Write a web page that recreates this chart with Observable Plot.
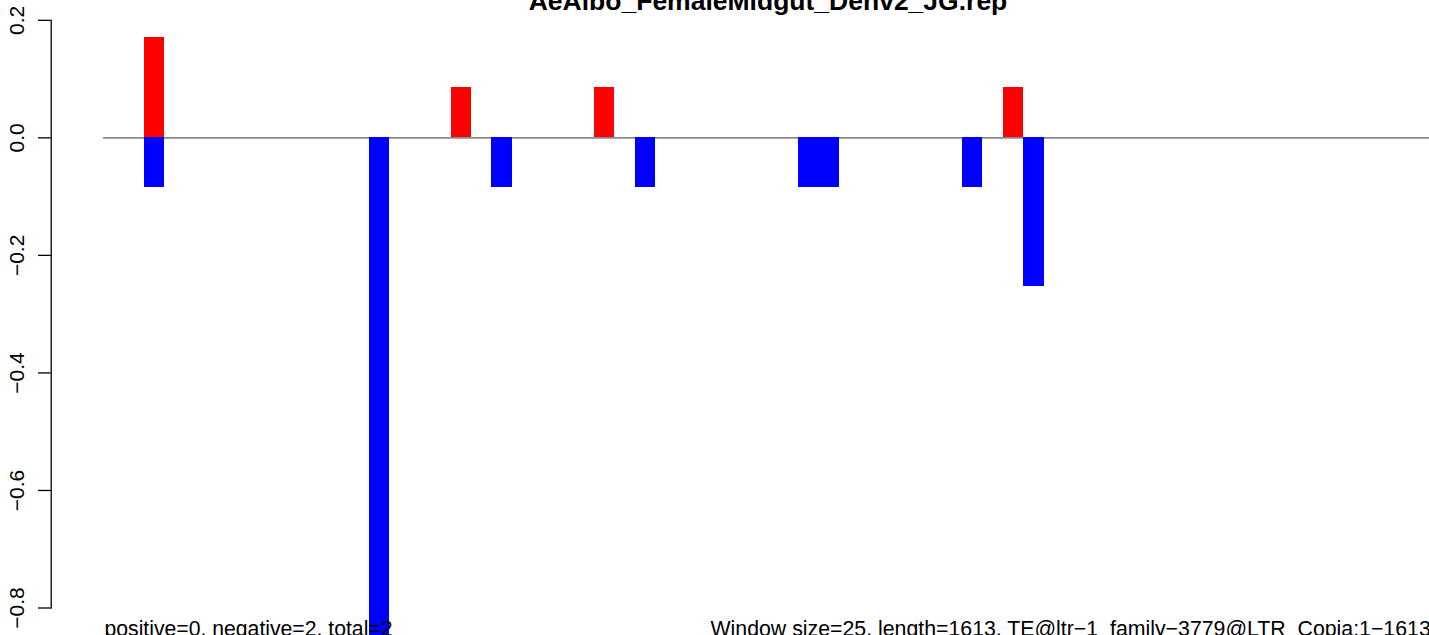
<!DOCTYPE html>
<html>
<head>
<meta charset="utf-8">
<script src="https://cdn.jsdelivr.net/npm/d3@7"></script>
<script src="https://cdn.jsdelivr.net/npm/@observablehq/plot@0.6"></script>
<style>
  html, body { margin: 0; padding: 0; background: #fff; }
  svg { display: block; }
</style>
</head>
<body>
<div id="chart"></div>
<script>
// ---- data ----
const titleText = "AeAlbo_FemaleMidgut_Denv2_JG.rep";
const leftNote = "positive=0, negative=2, total=2";
const rightNote = "Window size=25, length=1613, TE@ltr\u22121_family\u22123779@LTR_Copia:1\u22121613";
const nWindows = 65;

const redWindows = [2, 17, 24, 44];
const redValues  = [0.17, 0.085, 0.085, 0.085];

const blueWindows = [2, 13, 19, 26, 34, 35, 42, 45];
const blueValues  = [-0.085, -1.02, -0.085, -0.085, -0.085, -0.085, -0.085, -0.253];

const yTicks = [0.2, 0.0, -0.2, -0.4, -0.6, -0.8];
const yTickLabels = ["0.2", "0.0", "\u22120.2", "\u22120.4", "\u22120.6", "\u22120.8"];

// ---- tables ----
const red = redWindows.map((w, i) => ({w, v: redValues[i]}));
const blue = blueWindows.map((w, i) => ({w, v: blueValues[i]}));
const ticks = yTicks.map((t, i) => ({t, label: yTickLabels[i]}));

const font = "'Liberation Sans', Arial, Helvetica, sans-serif";

const chart = Plot.plot({
  width: 1429,
  height: 635,
  marginLeft: 50.7,
  marginRight: 0,
  marginTop: 19.8,
  marginBottom: 27.5,
  style: {fontFamily: font, background: "#fff", color: "#000", overflow: "hidden"},
  x: {domain: [0, nWindows], range: [103, 1432], axis: null},
  y: {domain: [-0.8, 0.2], range: [607.5, 19.8], axis: null},
  marks: [
    Plot.ruleY([0], {x1: 0, x2: nWindows, stroke: "#8a8a8a", strokeWidth: 1.6}),
    Plot.rectY(blue, {x1: d => d.w, x2: d => d.w + 1, y1: 0, y2: d => d.v, fill: "#0000FF", shapeRendering: "crispEdges"}),
    Plot.rectY(red, {x1: d => d.w, x2: d => d.w + 1, y1: 0, y2: d => d.v, fill: "#FF0000", shapeRendering: "crispEdges"}),
    Plot.frame({anchor: "left", stroke: "#000", strokeWidth: 1.3}),
    Plot.axisY(yTicks, {tickSize: 12.7, tickFormat: () => "", label: null, stroke: "#000", strokeWidth: 1.3}),
    Plot.text(ticks, {y: "t", text: "label", frameAnchor: "left", dx: -27.7, rotate: -90,
      textAnchor: "middle", lineAnchor: "bottom", fontSize: 21, fill: "#000"}),
    Plot.text([titleText], {x: nWindows / 2, frameAnchor: "top", dy: -9.8, lineAnchor: "bottom",
      fontWeight: "bold", fontSize: 26.5, fill: "#000"}),
    Plot.text([leftNote], {x: 0, frameAnchor: "bottom", dy: 27.5, dx: 1, lineAnchor: "bottom",
      textAnchor: "start", fontSize: 21.2, fill: "#000"}),
    Plot.text([rightNote], {frameAnchor: "bottom-left", dx: 659.3, dy: 27.5, lineAnchor: "bottom",
      textAnchor: "start", fontSize: 21.3, fill: "#000"})
  ]
});
document.getElementById("chart").appendChild(chart);
</script>
</body>
</html>
